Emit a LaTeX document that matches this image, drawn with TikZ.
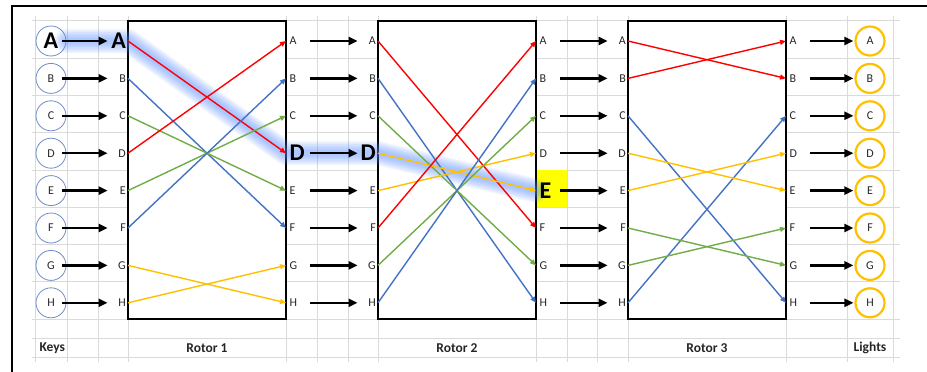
\documentclass[tikz,border=0pt]{standalone}
\usepackage{fontspec}
\setmainfont{Carlito}
\usetikzlibrary{arrows.meta}
\definecolor{wireR}{HTML}{FF0000}
\definecolor{wireB}{HTML}{4472C4}
\definecolor{wireG}{HTML}{70AD47}
\definecolor{wireY}{HTML}{FFC000}
\definecolor{cellgrid}{HTML}{DADADA}
\definecolor{keyblue}{HTML}{6F8DC6}
\definecolor{glowblue}{HTML}{5A8EFF}
\definecolor{hilite}{HTML}{FFFF00}
\definecolor{letter}{HTML}{262626}
\pgfdeclarelayer{sheet}
\pgfdeclarelayer{glowing}
\pgfsetlayers{sheet,glowing,main}
\tikzset{
  cellline/.style={draw=cellgrid,line width=0.8},
  rotorbox/.style={draw=black,line width=1.6,fill=white},
  glyph/.style={font=\fontsize{12}{14}\selectfont,text=letter,inner ysep=1},
  inpin/.style={glyph,anchor=east,inner xsep=2,text width=16,align=right},
  outpin/.style={glyph,anchor=west,inner xsep=3.5,text width=17,align=left},
  bigpin/.style={font=\fontsize{24}{26}\selectfont\bfseries,text=black},
  keybtn/.style={glyph,circle,draw=keyblue,line width=0.8,minimum size=30,inner sep=0},
  lamp/.style={glyph,circle,draw=wireY,line width=2.2,minimum size=29,inner sep=0},
  feed/.style={-{Triangle[length=9,width=8]},line width=2.4},
  wire/.style={-{Triangle[length=6,width=5]},line width=1.4},
  caption/.style={font=\fontsize{13.5}{15}\selectfont\bfseries,text=letter},
  % the letter that is pressed, followed through the rotors
  hot kA/.style={bigpin}, hot p1A/.style={bigpin}, hot q1D/.style={bigpin},
  hot p2D/.style={bigpin}, hot q2E/.style={bigpin}
}
\begin{document}
\begin{tikzpicture}[x=1pt,y=-1pt]
  \path[use as bounding box] (0,0) rectangle (927,372);

  \begin{pgfonlayer}{sheet}
    % spreadsheet cells
    \foreach \r in {20.7,58,95.3,132.6,169.9,207.2,244.5,281.8,319.1,338,357}
      \draw[cellline] (32,\r) -- (900,\r);
    \foreach \c in {35,67,98,128,286,317,348,378,536,567,597,628,786,847,893}
      \draw[cellline] (\c,16) -- (\c,362);
    \fill[hilite] (536,169.9) rectangle (567,207.2);
    \draw[line width=2] (12,372) -- (12,6) -- (927,6);
    \draw[rotorbox] (128,20.7) rectangle (286,319.1);
    \draw[rotorbox] (378,20.7) rectangle (536,319.1);
    \draw[rotorbox] (628,20.7) rectangle (786,319.1);
  \end{pgfonlayer}

  \foreach \L [count=\i from 0] in {A,...,H}{
    \pgfmathsetmacro\y{41+37.4*\i}
    \node[keybtn,hot k\L/.try] (k\L) at (51,\y) {\L};
    \node[inpin,hot p1\L/.try] (p1\L) at (128,\y) {\L};
    \node[outpin,hot q1\L/.try] (q1\L) at (286,\y) {\L};
    \node[inpin,hot p2\L/.try] (p2\L) at (378,\y) {\L};
    \node[outpin,hot q2\L/.try] (q2\L) at (536,\y) {\L};
    \node[inpin] (p3\L) at (628,\y) {\L};
    \node[outpin] (q3\L) at (786,\y) {\L};
    \node[lamp] (g\L) at (870,\y) {\L};
    \draw[feed,shorten <=-4] (k\L.east) -- (p1\L.west);
    \draw[feed] (q1\L.east) -- (p2\L.west);
    \draw[feed] (q2\L.east) -- (p3\L.west);
    \draw[feed,shorten >=1] (q3\L.east) -- (g\L.west);
  }

  % rotor wirings
  \foreach \s/\t/\col in {A/D/wireR,B/F/wireB,C/E/wireG,D/A/wireR,
                          E/C/wireG,F/B/wireB,G/H/wireY,H/G/wireY}
    \draw[wire,draw=\col] (p1\s.east) -- (q1\t.west);
  \foreach \s/\t/\col in {A/F/wireR,B/H/wireB,C/G/wireG,D/E/wireY,
                          E/D/wireY,F/A/wireR,G/C/wireG,H/B/wireB}
    \draw[wire,draw=\col] (p2\s.east) -- (q2\t.west);
  \foreach \s/\t/\col in {A/B/wireR,B/A/wireR,C/H/wireB,H/C/wireB,
                          D/E/wireY,E/D/wireY,F/G/wireG,G/F/wireG}
    \draw[wire,draw=\col] (p3\s.east) -- (q3\t.west);

  \begin{pgfonlayer}{glowing}
    \foreach \w in {24,21,18,15,12,9,6}
      \draw[glowblue,line width=\w,opacity=0.09,line cap=round,line join=round]
        (kA.east) -- (p1A.center) -- (p1A.east) -- (q1D.west) -- (q1D.center)
        -- (p2D.center) -- (p2D.east) -- (q2E.west);
  \end{pgfonlayer}

  \node[caption,anchor=west] (keys) at (36,348) {Keys};
  \node[caption] (rot1) at (207,348) {Rotor 1};
  \node[caption] (rot2) at (457,348) {Rotor 2};
  \node[caption] (rot3) at (707,348) {Rotor 3};
  \node[caption] (lights) at (870,348) {Lights};
\end{tikzpicture}
\end{document}
